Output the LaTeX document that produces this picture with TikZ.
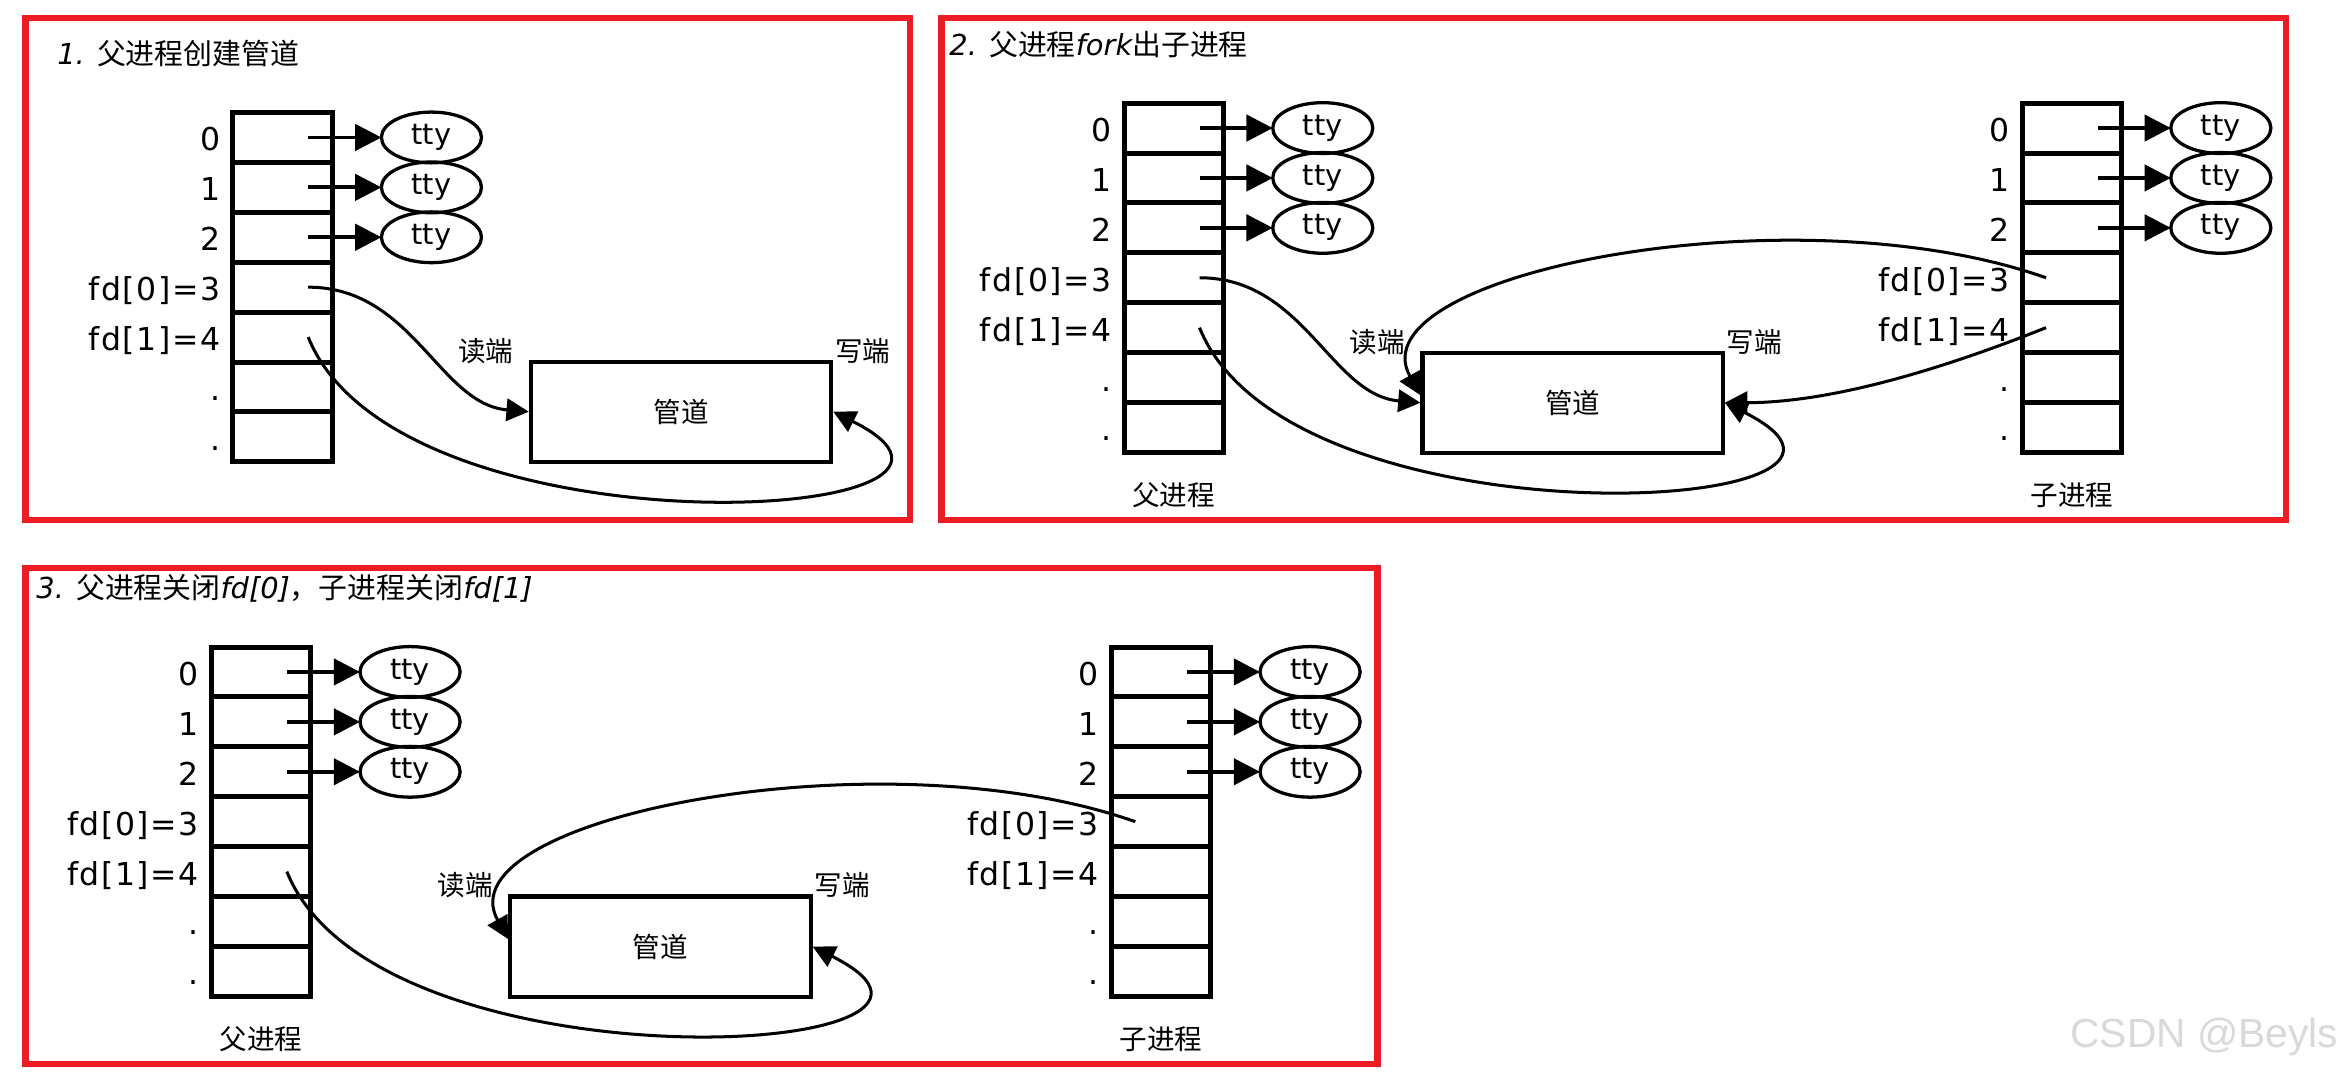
\documentclass[tikz,border=0pt]{standalone}
\usepackage{fontspec}
\setmainfont{DejaVu Sans}[ItalicFont={DejaVu Sans Oblique}]
\newfontfamily\zh{Noto Sans CJK SC}
\newfontfamily\lbl[LetterSpace=5]{DejaVu Sans}
\newfontfamily\wm{Liberation Sans}
\usepackage{tikz}
\usetikzlibrary{shapes.geometric, arrows.meta, positioning}
\definecolor{framered}{RGB}{237,28,36}

\begin{document}
\begin{tikzpicture}[
    x=0.02cm, y=-0.02cm,
    frame/.style={rectangle, draw=framered, line width=2.5pt, inner sep=0},
    title/.style={anchor=west, inner sep=0, font=\fontsize{11}{13}\selectfont},
    cell/.style={rectangle, draw, line width=1.9pt, outer sep=0,
                 minimum width=1.33cm, minimum height=0.668cm},
    fdlabel/.style={anchor=base east, inner sep=0,
                    font=\lbl\fontsize{12}{14}\selectfont},
    tty/.style={ellipse, draw, line width=1.25pt, outer sep=0, inner sep=0,
                minimum width=1.34cm, minimum height=0.68cm,
                font=\fontsize{11}{13}\selectfont},
    pipe/.style={rectangle, draw, line width=1.6pt, minimum width=4.02cm,
                 minimum height=1.34cm, font=\zh\fontsize{10.5}{12}\selectfont},
    tag/.style={inner sep=0, font=\zh\fontsize{10.5}{12}\selectfont},
    ptr/.style={-{Triangle[length=10pt,width=10pt]}, line width=1.5pt},
    link/.style={-{Triangle[length=8.5pt,width=8.5pt]}, line width=1.15pt},
]
\useasboundingbox (0,0) rectangle (1568,720);

% Frames and titles
\node[frame, minimum width=11.84cm, minimum height=6.72cm] (box1) at (313,180) {};
\node[frame, minimum width=18cm, minimum height=6.72cm] (box2) at (1080,180) {};
\node[frame, minimum width=18.1cm, minimum height=6.64cm] (box3) at (469.5,546) {};

\node[title] (title1) at (38,36) {{\itshape 1.} {\zh 父进程创建管道}};
\node[title] (title2) at (635,30) {{\itshape 2.} {\zh 父进程}{\itshape fork}{\zh 出子进程}};
\node[title] (title3) at (24,394) {{\itshape 3.} {\zh 父进程关闭}{\itshape fd[0]}{\zh ，子进程关闭}{\itshape fd[1]}};

% Descriptor tables
\foreach \tb/\tx/\ty in {par1/189/92, par2/785.5/85.7, chd2/1386.5/85.7,
                         par3/174.7/449.7, chd3/777/449.7} {
  \node[cell] (\tb-0) at (\tx,\ty) {};
  \foreach \i [count=\j from 1] in {0,...,5}
    \node[cell, below=0pt of \tb-\i] (\tb-\j) {};
  \foreach \i/\txt in {0/0, 1/1, 2/2, 3/{fd[0]=3}, 4/{fd[1]=4}, 5/., 6/.}
    \node[fdlabel] (\tb-l\i) at ([xshift=-0.16cm,yshift=-0.18cm]\tb-\i.west) {\txt};
  % stdin, stdout, stderr
  \foreach \i in {0,1,2} {
    \node[tty, right=0.66cm of \tb-\i] (\tb-t\i) {tty};
    \draw[ptr] ([xshift=-0.32cm]\tb-\i.east) -- (\tb-t\i);
  }
}

% Process names
\node[tag, below=0.4cm of par2-6] (par2-name) {父进程};
\node[tag, below=0.4cm of chd2-6] (chd2-name) {子进程};
\node[tag, below=0.4cm of par3-6] (par3-name) {父进程};
\node[tag, below=0.4cm of chd3-6] (chd3-name) {子进程};

% Pipes
\node[pipe] (pipe1) at (455.75,275.5) {管道};
\node[tag, anchor=east] (rd1) at ([xshift=-0.2cm,yshift=0.11cm]pipe1.north west) {读端};
\node[tag, anchor=west] (wr1) at ([xshift=0.02cm,yshift=0.11cm]pipe1.north east) {写端};

\node[pipe] (pipe2) at (1052.5,269.5) {管道};
\node[tag, anchor=east] (rd2) at ([xshift=-0.2cm,yshift=0.12cm]pipe2.north west) {读端};
\node[tag, anchor=west] (wr2) at ([xshift=0.02cm,yshift=0.12cm]pipe2.north east) {写端};

\node[pipe] (pipe3) at (442,633.5) {管道};
\node[tag, anchor=east] (rd3) at ([xshift=-0.2cm,yshift=0.13cm]pipe3.north west) {读端};
\node[tag, anchor=west] (wr3) at ([xshift=0.02cm,yshift=0.13cm]pipe3.north east) {写端};

% Pipe ends
\draw[link] ([xshift=-0.32cm]par1-3.east) .. controls +(70,0) and +(-60,-5) .. (pipe1.west);
\draw[link] ([xshift=-0.32cm]par1-4.east) .. controls +(60,150) and +(150,75) .. (pipe1.east);

\draw[link] ([xshift=-0.32cm]par2-3.east) .. controls +(70,0) and +(-60,-5) .. (pipe2.west);
\draw[link] ([xshift=-0.32cm]par2-4.east) .. controls +(60,150) and +(150,75) .. (pipe2.east);
\draw[link] ([xshift=0.32cm]chd2-3.west) .. controls +(-170,-60) and +(-45,-81) .. ([yshift=0.1cm]pipe2.west);
\draw[link] ([xshift=0.32cm]chd2-4.west) .. controls +(-50,20) and +(80,0) .. (pipe2.east);

\draw[link] ([xshift=-0.32cm]par3-4.east) .. controls +(60,150) and +(150,75) .. (pipe3.east);
\draw[link] ([xshift=0.32cm]chd3-3.west) .. controls +(-170,-60) and +(-45,-81) .. ([yshift=0.1cm]pipe3.west);

% Watermark
\node[anchor=east, inner sep=0, text=gray!30, font=\wm\fontsize{15.5}{17}\selectfont] (mark) at (1565,694) {CSDN @Beyls};

\end{tikzpicture}
\end{document}
